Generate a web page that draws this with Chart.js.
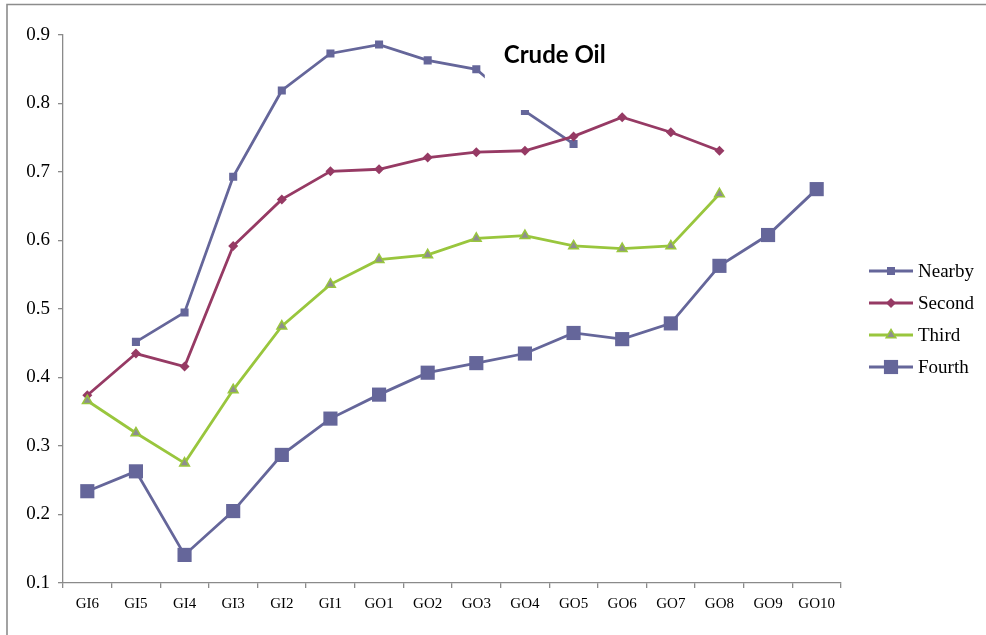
<!DOCTYPE html>
<html>
<head>
<meta charset="utf-8">
<title>Crude Oil</title>
<script src="https://cdn.jsdelivr.net/npm/chart.js@4/dist/chart.umd.min.js"></script>
<style>
  html, body { margin: 0; padding: 0; background: #ffffff; overflow: hidden; }
  #wrap { position: relative; width: 986px; height: 635px; }
</style>
</head>
<body>
<div id="wrap"><canvas id="chart" width="986" height="635"></canvas></div>
<script>
// Contract labels along the curve
const categories = ['GI6', 'GI5', 'GI4', 'GI3', 'GI2', 'GI1', 'GO1', 'GO2', 'GO3', 'GO4', 'GO5', 'GO6', 'GO7', 'GO8', 'GO9', 'GO10'];

// Series values (null = no observation)
const nearby = [null, 0.452, 0.495, 0.693, 0.819, 0.873, 0.886, 0.863, 0.850, 0.789, 0.741, null, null, null, null, null];
const second = [0.374, 0.435, 0.416, 0.592, 0.660, 0.701, 0.704, 0.721, 0.729, 0.731, 0.752, 0.780, 0.758, 0.731, null, null];
const third  = [0.366, 0.319, 0.275, 0.382, 0.475, 0.536, 0.572, 0.579, 0.603, 0.607, 0.592, 0.588, 0.592, 0.668, null, null];
const fourth = [0.234, 0.263, 0.141, 0.205, 0.287, 0.340, 0.375, 0.407, 0.421, 0.435, 0.465, 0.456, 0.479, 0.563, 0.608, 0.675];

// Value axis ticks
const yTicks = [0.1, 0.2, 0.3, 0.4, 0.5, 0.6, 0.7, 0.8, 0.9];

const seriesNames = ['Nearby', 'Second', 'Third', 'Fourth'];
const chartTitle = 'Crude Oil';

const BLUE = '#65669A';
const MAROON = '#963A64';
const GREEN = '#99C63D';
const GREY_FILL = '#8E8E8E';
const AXIS = '#8A8A8A';

const styles = [
  { color: BLUE,   fill: BLUE,      pointStyle: 'rect',     radius: 5.7, borderWidth: 0 },
  { color: MAROON, fill: MAROON,    pointStyle: 'rectRot',  radius: 5.0, borderWidth: 0 },
  { color: GREEN,  fill: GREY_FILL, pointStyle: 'triangle', radius: 5.6, borderWidth: 1.5 },
  { color: BLUE,   fill: BLUE,      pointStyle: 'rect',     radius: 10.0, borderWidth: 0 }
];

const seriesValues = [nearby, second, third, fourth];

const datasets = seriesValues.map((vals, i) => ({
  label: seriesNames[i],
  data: vals,
  borderColor: styles[i].color,
  backgroundColor: styles[i].fill,
  borderWidth: 2.8,
  pointStyle: styles[i].pointStyle,
  pointRadius: styles[i].radius,
  pointHoverRadius: styles[i].radius,
  pointBackgroundColor: styles[i].fill,
  pointBorderColor: styles[i].color,
  pointBorderWidth: styles[i].borderWidth,
  tension: 0,
  spanGaps: false,
  fill: false,
  order: 4 - i
}));

// Simple marker drawer for the legend
function drawMarker(ctx, style, x, y) {
  ctx.save();
  ctx.fillStyle = style.fill;
  ctx.strokeStyle = style.color;
  ctx.lineWidth = style.borderWidth;
  ctx.beginPath();
  const r = style.radius;
  if (style.pointStyle === 'rect') {
    const s = Math.SQRT1_2 * r;
    ctx.rect(x - s, y - s, 2 * s, 2 * s);
  } else if (style.pointStyle === 'rectRot') {
    ctx.moveTo(x - r, y);
    ctx.lineTo(x, y - r);
    ctx.lineTo(x + r, y);
    ctx.lineTo(x, y + r);
    ctx.closePath();
  } else if (style.pointStyle === 'triangle') {
    ctx.moveTo(x, y - r);
    ctx.lineTo(x + r * Math.sin(2 * Math.PI / 3), y - r * Math.cos(2 * Math.PI / 3));
    ctx.lineTo(x + r * Math.sin(4 * Math.PI / 3), y - r * Math.cos(4 * Math.PI / 3));
    ctx.closePath();
  }
  ctx.fill();
  if (style.borderWidth > 0) ctx.stroke();
  ctx.restore();
}

// Outer frame of the chart object
const framePlugin = {
  id: 'frame',
  beforeDraw(chart) {
    const ctx = chart.ctx;
    ctx.save();
    ctx.strokeStyle = '#8C8C8C';
    ctx.lineWidth = 1.6;
    ctx.beginPath();
    ctx.moveTo(7, chart.height + 2);
    ctx.lineTo(7, 4.5);
    ctx.lineTo(chart.width + 2, 4.5);
    ctx.stroke();
    ctx.restore();
  }
};

// Title drawn inside the plot on a white box
const titlePlugin = {
  id: 'innerTitle',
  afterDatasetsDraw(chart) {
    const ctx = chart.ctx;
    const x = chart.scales.x;
    const left = x.getPixelForValue(8) + 8.5;
    const right = x.getPixelForValue(12) + 8;
    ctx.save();
    ctx.fillStyle = '#ffffff';
    ctx.fillRect(left, 28, right - left, 82);
    ctx.fillStyle = '#000000';
    ctx.font = 'bold 24px Lato, "Open Sans", sans-serif';
    ctx.textAlign = 'left';
    ctx.textBaseline = 'alphabetic';
    ctx.fillText(chartTitle, left + 19, 63);
    ctx.restore();
  }
};

// Legend: line segment with marker, then series name
const legendPlugin = {
  id: 'lineLegend',
  afterDraw(chart) {
    const ctx = chart.ctx;
    const x0 = chart.chartArea.right + 28;
    const x1 = x0 + 44;
    const yStart = 271;
    const step = 32;
    ctx.save();
    ctx.font = '19px "Liberation Serif", "Times New Roman", serif';
    ctx.textBaseline = 'middle';
    ctx.textAlign = 'left';
    seriesNames.forEach((name, i) => {
      const y = yStart + i * step;
      const st = styles[i];
      ctx.strokeStyle = st.color;
      ctx.lineWidth = 2.8;
      ctx.beginPath();
      ctx.moveTo(x0, y);
      ctx.lineTo(x1, y);
      ctx.stroke();
      drawMarker(ctx, st, (x0 + x1) / 2, y);
      ctx.fillStyle = '#000000';
      ctx.fillText(name, x1 + 5, y + 1);
    });
    ctx.restore();
  }
};

new Chart(document.getElementById('chart'), {
  type: 'line',
  data: { labels: categories, datasets: datasets },
  options: {
    responsive: false,
    animation: false,
    devicePixelRatio: 1,
    layout: { padding: { top: 35, right: 145, bottom: 0, left: 0 } },
    plugins: {
      legend: { display: false },
      title: { display: false },
      tooltip: { enabled: false }
    },
    scales: {
      x: {
        type: 'category',
        offset: true,
        grid: {
          offset: true,
          drawOnChartArea: false,
          drawTicks: true,
          tickLength: 5,
          color: AXIS,
          lineWidth: 1.3
        },
        border: { display: true, color: AXIS, width: 1.3 },
        ticks: {
          color: '#000000',
          padding: 7,
          maxRotation: 0,
          autoSkip: false,
          font: { family: '"Liberation Serif", "Times New Roman", serif', size: 15 }
        },
        afterFit(scale) { scale.height = 52; }
      },
      y: {
        type: 'linear',
        min: 0.1,
        max: 0.9,
        afterBuildTicks(scale) { scale.ticks = yTicks.map(v => ({ value: v })); },
        grid: {
          drawOnChartArea: false,
          drawTicks: true,
          tickLength: 5,
          color: AXIS,
          lineWidth: 1.3
        },
        border: { display: true, color: AXIS, width: 1.3 },
        ticks: {
          color: '#000000',
          padding: 8,
          font: { family: '"Liberation Serif", "Times New Roman", serif', size: 19 },
          callback: v => String(Math.round(v * 10) / 10)
        },
        afterFit(scale) { scale.width = 63; }
      }
    }
  },
  plugins: [framePlugin, titlePlugin, legendPlugin]
});
</script>
</body>
</html>
